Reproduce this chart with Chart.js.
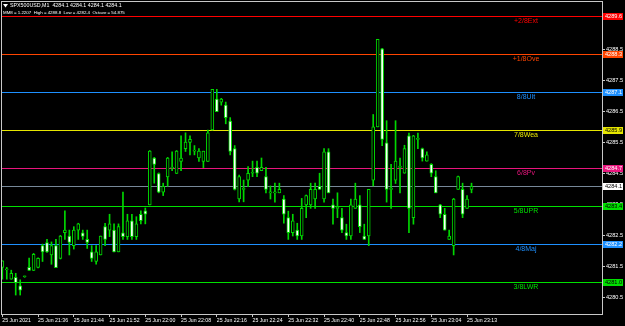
<!DOCTYPE html>
<html>
<head>
<meta charset="utf-8">
<script src="https://cdn.jsdelivr.net/npm/chart.js@4.4.0/dist/chart.umd.min.js"></script>
<style>
html, body { margin: 0; padding: 0; background: #000; }
canvas { display: block; }
</style>
</head>
<body>
<canvas id="chart" width="625" height="326"></canvas>
<script>
// SPX500USD M1 candles
const open = [4281.48, 4281.40, 4281.10, 4281.16, 4280.89, 4281.18, 4281.48, 4281.38, 4281.48, 4282.18,
  4282.28, 4281.88, 4282.18, 4281.77, 4282.60, 4282.49, 4282.18, 4282.68, 4282.59, 4282.38,
  4281.98, 4281.67, 4281.88, 4282.79, 4282.68, 4282.68, 4281.98, 4282.59, 4282.47, 4282.98,
  4282.47, 4283.19, 4283.30, 4283.49, 4285.00, 4284.50, 4283.90, 4284.39, 4284.67, 4284.50,
  4284.89, 4285.30, 4285.50, 4285.22, 4285.00, 4284.89, 4284.89, 4285.90, 4286.90, 4286.80,
  4286.70, 4286.19, 4285.30, 4283.68, 4283.99, 4284.29, 4284.51, 4284.70, 4284.59, 4284.40,
  4283.88, 4283.88, 4283.88, 4283.68, 4283.08, 4282.60, 4282.68, 4282.49, 4283.49, 4283.49,
  4283.68, 4284.09, 4283.68, 4285.20, 4283.49, 4283.38, 4283.08, 4282.60, 4282.49, 4283.38,
  4283.49, 4282.49, 4282.49, 4284.29, 4286.00, 4288.51, 4285.49, 4283.99, 4284.29, 4284.70,
  4284.51, 4285.71, 4283.08, 4285.60, 4285.30, 4284.90, 4284.80, 4284.40, 4283.49, 4283.19,
  4282.38, 4282.18, 4283.99, 4283.99, 4283.38, 4283.99];
const high = [4281.69, 4281.48, 4281.39, 4281.29, 4281.08, 4281.20, 4281.78, 4281.93, 4281.79, 4282.23,
  4282.38, 4282.30, 4282.38, 4282.51, 4283.30, 4282.68, 4282.79, 4282.90, 4282.68, 4282.68,
  4282.18, 4282.18, 4282.49, 4282.90, 4283.19, 4282.88, 4282.88, 4283.90, 4283.19, 4283.19,
  4283.11, 4283.30, 4283.39, 4285.24, 4285.02, 4284.52, 4284.19, 4285.02, 4285.20, 4285.24,
  4285.71, 4285.81, 4285.71, 4285.40, 4285.30, 4285.22, 4285.90, 4287.21, 4287.21, 4286.92,
  4286.80, 4286.30, 4285.40, 4284.45, 4284.29, 4284.72, 4284.90, 4284.90, 4285.00, 4284.70,
  4284.10, 4284.19, 4284.19, 4283.79, 4283.29, 4283.19, 4282.90, 4283.70, 4283.81, 4284.19,
  4284.19, 4284.51, 4285.30, 4285.30, 4283.68, 4283.88, 4283.38, 4282.87, 4283.68, 4284.19,
  4283.79, 4282.87, 4283.99, 4286.40, 4288.82, 4288.53, 4286.20, 4284.80, 4286.20, 4285.00,
  4285.41, 4285.80, 4285.73, 4285.80, 4285.32, 4285.20, 4284.82, 4284.59, 4283.51, 4283.38,
  4282.68, 4283.70, 4284.42, 4284.19, 4283.79, 4284.19];
const low = [4281.10, 4281.10, 4281.10, 4280.59, 4280.59, 4281.16, 4281.38, 4281.38, 4281.46, 4281.67,
  4281.96, 4281.58, 4281.47, 4281.75, 4282.38, 4281.88, 4282.07, 4282.38, 4282.38, 4282.09,
  4281.67, 4281.58, 4281.88, 4282.18, 4282.47, 4281.98, 4281.98, 4282.38, 4282.38, 4282.38,
  4282.38, 4282.88, 4282.88, 4283.49, 4284.19, 4283.88, 4283.79, 4284.09, 4284.59, 4284.50,
  4284.59, 4285.21, 4285.10, 4285.10, 4284.89, 4284.69, 4284.89, 4285.90, 4286.49, 4286.70,
  4286.10, 4285.10, 4283.97, 4283.59, 4283.59, 4284.08, 4284.40, 4284.40, 4284.59, 4283.88,
  4283.68, 4283.58, 4283.88, 4282.90, 4282.38, 4282.49, 4282.38, 4282.38, 4283.08, 4283.38,
  4283.38, 4283.99, 4283.58, 4283.88, 4282.87, 4283.08, 4282.60, 4282.38, 4282.38, 4283.38,
  4282.60, 4282.38, 4282.18, 4284.10, 4286.00, 4285.40, 4283.58, 4283.38, 4284.18, 4283.88,
  4284.51, 4282.60, 4282.87, 4285.30, 4284.90, 4284.90, 4284.40, 4283.88, 4283.08, 4282.68,
  4282.38, 4281.88, 4283.99, 4283.08, 4283.38, 4283.88];
const close = [4281.69, 4281.41, 4281.29, 4280.99, 4280.75, 4281.19, 4281.38, 4281.90, 4281.77, 4281.98,
  4281.98, 4282.18, 4281.47, 4282.49, 4282.68, 4282.28, 4282.68, 4282.88, 4282.48, 4282.28,
  4281.77, 4281.98, 4282.49, 4282.38, 4282.88, 4281.98, 4282.79, 4282.47, 4282.98, 4282.47,
  4282.88, 4282.98, 4283.19, 4285.22, 4284.79, 4283.90, 4284.09, 4285.00, 4284.70, 4285.22,
  4285.00, 4285.51, 4285.60, 4285.23, 4285.22, 4285.22, 4285.81, 4287.21, 4286.49, 4286.90,
  4286.30, 4285.21, 4283.99, 4284.40, 4284.00, 4284.51, 4284.52, 4284.51, 4284.70, 4283.99,
  4283.89, 4283.89, 4283.99, 4283.19, 4282.60, 4282.98, 4282.49, 4283.38, 4283.79, 4283.99,
  4283.99, 4283.99, 4285.20, 4283.88, 4283.38, 4283.39, 4282.68, 4282.49, 4283.49, 4283.68,
  4282.79, 4282.38, 4283.99, 4286.00, 4288.82, 4285.60, 4283.99, 4284.00, 4284.90, 4284.71,
  4285.30, 4283.38, 4285.71, 4285.61, 4285.00, 4285.10, 4284.51, 4283.88, 4283.19, 4282.68,
  4282.49, 4283.68, 4284.40, 4283.19, 4283.68, 4284.09];

// one label every 8 bars
const timeLabels = ['25 Jun 2021', '25 Jun 21:36', '25 Jun 21:44', '25 Jun 21:52', '25 Jun 22:00',
  '25 Jun 22:08', '25 Jun 22:16', '25 Jun 22:24', '25 Jun 22:32', '25 Jun 22:40',
  '25 Jun 22:48', '25 Jun 22:56', '25 Jun 23:04', '25 Jun 23:13'];
const yTicks = [4280.5, 4281.5, 4282.5, 4283.5, 4284.5, 4285.5, 4286.5, 4287.5, 4288.5, 4289.5];

// murrey math levels
const levelPrices = [4281.00, 4282.22, 4283.44, 4284.67, 4285.89, 4287.11, 4288.34, 4289.56];
const levelNames = ['3/8LWR', '4/8Maj', '5/8UPR', '6/8Pv', '7/8Wea', '8/8Ult', '+1/8Ove', '+2/8Ext'];
const lastPrice = 4284.1;
const headerLine1 = 'SPX500USD,M1  4284.1 4284.1 4284.1 4284.1';
const headerLine2 = 'MM8 = 1.2207  High = 4288.8  Low = 4282.4  Octave = 54.875';

const levelColors = ['#00e000', '#1e90ff', '#00e000', '#e8157d', '#e6e600', '#1e90ff', '#ff4500', '#ff0000'];
const levelText = ['#000', '#fff', '#000', '#fff', '#000', '#fff', '#fff', '#fff'];
const green = '#00d800';
const frameColor = '#c8c8c8';
const smallFont = '"Liberation Sans", Arial, sans-serif';

const bodies = open.map((o, i) => ({ x: i, y: [o, close[i]] }));
const wicks = low.map((l, i) => ({ x: i, y: [l, high[i]] }));

const mmPlugin = {
  id: 'mm',
  beforeDatasetsDraw(chart) {
    const { ctx, chartArea: a, scales: { y } } = chart;
    ctx.save();
    ctx.lineWidth = 1;
    levelPrices.forEach((p, i) => {
      const py = Math.round(y.getPixelForValue(p)) + 0.5;
      ctx.strokeStyle = levelColors[i];
      ctx.beginPath(); ctx.moveTo(a.left, py); ctx.lineTo(a.right, py); ctx.stroke();
    });
    const lp = Math.round(y.getPixelForValue(lastPrice)) + 0.5;
    ctx.strokeStyle = '#778899';
    ctx.beginPath(); ctx.moveTo(a.left, lp); ctx.lineTo(a.right, lp); ctx.stroke();
    ctx.restore();
  },
  afterDraw(chart) {
    const { ctx, chartArea: a, scales: { y } } = chart;
    ctx.save();
    // level names
    ctx.font = '7px ' + smallFont;
    ctx.textAlign = 'center';
    ctx.textBaseline = 'middle';
    levelPrices.forEach((p, i) => {
      ctx.fillStyle = levelColors[i];
      ctx.fillText(levelNames[i], a.left + 524, y.getPixelForValue(p) + 5);
    });
    // price boxes on the axis
    ctx.font = '5.6px ' + smallFont;
    ctx.textAlign = 'left';
    const box = (p, bg, fg) => {
      const py = Math.round(y.getPixelForValue(p));
      ctx.fillStyle = bg;
      ctx.fillRect(a.right + 1, py - 3, 20, 7);
      ctx.fillStyle = fg;
      ctx.fillText(p.toFixed(1), a.right + 3, py + 0.5);
    };
    levelPrices.forEach((p, i) => box(p, levelColors[i], levelText[i]));
    box(lastPrice, '#ffffff', '#000');
    // frame
    ctx.strokeStyle = frameColor;
    ctx.lineWidth = 1;
    ctx.strokeRect(a.left - 0.5, a.top - 0.5, a.right - a.left + 1, a.bottom - a.top + 1);
    // header
    ctx.fillStyle = '#fff';
    ctx.beginPath(); ctx.moveTo(3, 4); ctx.lineTo(8, 4); ctx.lineTo(5.5, 7.5); ctx.closePath(); ctx.fill();
    ctx.textBaseline = 'middle';
    ctx.font = '5.3px ' + smallFont;
    ctx.fillText(headerLine1, 10, 6);
    ctx.font = '4.4px ' + smallFont;
    ctx.fillText(headerLine2, 3, 13);
    ctx.restore();
  }
};

new Chart(document.getElementById('chart'), {
  type: 'bar',
  data: {
    datasets: [
      {
        data: bodies,
        barThickness: 3,
        minBarLength: 1,
        grouped: false,
        borderWidth: 1,
        borderSkipped: false,
        borderColor: green,
        backgroundColor: (c) => (close[c.dataIndex] >= open[c.dataIndex] ? '#000' : '#fff'),
        order: 0
      },
      {
        data: wicks,
        barThickness: 1,
        grouped: false,
        borderWidth: 0,
        backgroundColor: green,
        order: 1
      }
    ]
  },
  options: {
    responsive: false,
    animation: false,
    layout: { padding: { left: 2, top: 2, right: 0, bottom: 0 } },
    plugins: { legend: { display: false }, tooltip: { enabled: false } },
    scales: {
      x: {
        type: 'linear',
        offset: false,
        min: -0.07,
        max: 134.2,
        afterBuildTicks: (s) => { s.ticks = timeLabels.map((t, i) => ({ value: i * 8 })); },
        afterFit: (s) => { s.height = 12; s.paddingLeft = 0; s.paddingRight = 0; },
        grid: { drawOnChartArea: false, offset: false, tickLength: 3, color: frameColor },
        border: { color: frameColor },
        ticks: {
          align: 'start',
          autoSkip: false,
          maxRotation: 0,
          padding: 0,
          color: '#fff',
          font: { family: smallFont, size: 5.2 },
          callback: (v, i) => timeLabels[i]
        }
      },
      y: {
        position: 'right',
        min: 4279.98,
        max: 4290.02,
        afterBuildTicks: (s) => { s.ticks = yTicks.map((v) => ({ value: v })); },
        afterFit: (s) => { s.width = 23; s.paddingTop = 0; s.paddingBottom = 0; },
        grid: { drawOnChartArea: false, tickLength: 3, color: frameColor },
        border: { color: frameColor },
        ticks: {
          padding: 1,
          color: '#fff',
          font: { family: smallFont, size: 5.6 },
          callback: (v) => v.toFixed(1)
        }
      }
    }
  },
  plugins: [mmPlugin]
});
</script>
</body>
</html>
